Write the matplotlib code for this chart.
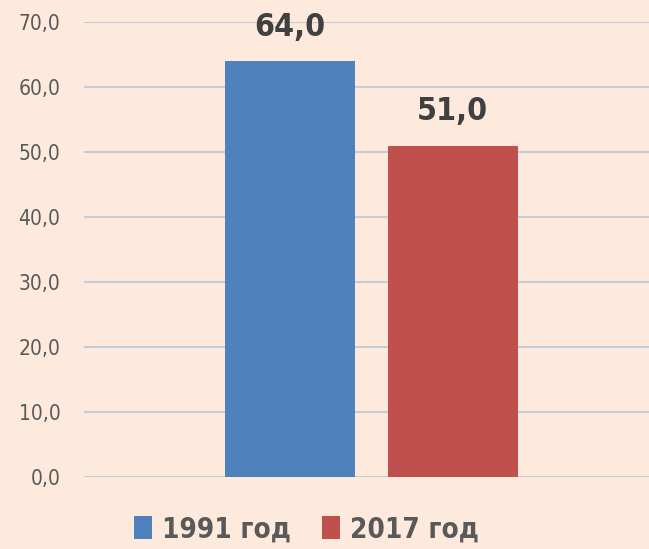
import matplotlib
matplotlib.use("Agg")
import matplotlib.pyplot as plt
from matplotlib.ticker import FuncFormatter

plt.rcParams['font.family'] = ['DejaVu Sans']
plt.rcParams['font.stretch'] = 'condensed'

years = ["1991 год", "2017 год"]
values = [64.0, 51.0]
colors = ["#4F81BD", "#C0504D"]
bg = "#FDEADC"

fig = plt.figure(figsize=(6.49, 5.49), dpi=100, facecolor=bg)
ax = fig.add_axes([84 / 649, 1 - 477 / 549, 1 - 84 / 649, (477 - 22) / 549])
ax.set_facecolor(bg)

for i, (lab, v, c) in enumerate(zip(years, values, colors)):
    b = ax.bar(i, v, width=0.8, color=c, label=lab, zorder=3)
    ax.bar_label(b, labels=[f"{v:.1f}".replace(".", ",")], padding=13,
                 fontsize=23, fontweight="bold", color="#404040")

ax.set_ylim(0, 70)
ax.set_xlim(-1.268, 2.209)
ax.set_yticks(range(0, 71, 10))
ax.yaxis.set_major_formatter(FuncFormatter(lambda v, p: f"{v:.1f}".replace(".", ",")))
ax.tick_params(axis="y", length=0, pad=17, labelsize=15, labelcolor="#595959")
ax.set_xticks([])
ax.grid(axis="y", color="#C5CBD8", linewidth=1.5, zorder=0)
for s in ax.spines.values():
    s.set_visible(False)

fig.legend(loc="lower center", bbox_to_anchor=(0.472, -0.035), ncol=2, frameon=False,
           prop={"size": 20, "weight": "bold"}, labelcolor="#595959",
           handlelength=0.65, handleheight=0.86, handletextpad=0.36, columnspacing=1.1)

fig.savefig("out.png", dpi=100, facecolor=bg)
